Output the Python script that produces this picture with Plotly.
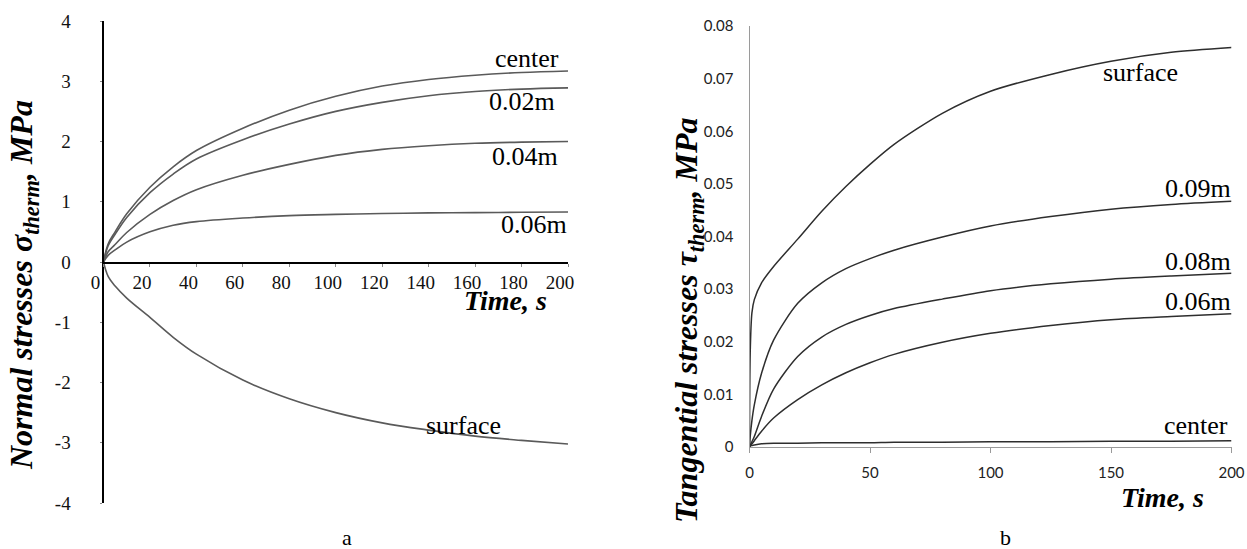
import plotly.graph_objects as go

W, H = 1247, 549

# ---- Chart a: normal stresses ----
t_a = [0, 2, 5, 10, 20, 30, 40, 60, 80, 100, 120, 140, 160, 180, 200]
center_a = [0, 0.30, 0.50, 0.80, 1.24, 1.58, 1.85, 2.22, 2.52, 2.75, 2.92, 3.03, 3.10, 3.145, 3.17]
m002_a = [0, 0.27, 0.46, 0.74, 1.15, 1.46, 1.71, 2.03, 2.29, 2.50, 2.65, 2.76, 2.83, 2.87, 2.89]
m004_a = [0, 0.17, 0.29, 0.49, 0.79, 1.02, 1.20, 1.44, 1.62, 1.77, 1.87, 1.93, 1.97, 1.99, 2.00]
m006_a = [0, 0.11, 0.20, 0.33, 0.50, 0.61, 0.67, 0.73, 0.77, 0.79, 0.805, 0.815, 0.82, 0.825, 0.83]
surface_a = [0, -0.24, -0.40, -0.60, -0.92, -1.25, -1.53, -1.96, -2.27, -2.50, -2.67, -2.79, -2.89, -2.96, -3.02]
yticks_a = [-4, -3, -2, -1, 0, 1, 2, 3, 4]
yticktext_a = ["-4", "-3", "-2", "-1", "0", "1", "2", "3", "4"]

# ---- Chart b: tangential stresses ----
t_b = [0, 0.3, 1, 2, 5, 10, 20, 30, 40, 50, 60, 80, 100, 125, 150, 175, 200]
surface_b = [0, 0.018, 0.0255, 0.028, 0.0312, 0.0343, 0.0395, 0.0448, 0.0495, 0.0537, 0.0575, 0.0634, 0.0676, 0.0708, 0.0733, 0.0750, 0.0759]
m009_b = [0, 0.002, 0.005, 0.008, 0.0140, 0.0203, 0.0273, 0.0312, 0.0339, 0.0358, 0.0374, 0.0399, 0.0420, 0.0438, 0.0452, 0.0461, 0.0467]
m008_b = [0, 0.0003, 0.001, 0.002, 0.0058, 0.0110, 0.0172, 0.0209, 0.0233, 0.0250, 0.0263, 0.0281, 0.0297, 0.0310, 0.0319, 0.0325, 0.0330]
m006_b = [0, 0.0002, 0.0006, 0.0012, 0.0030, 0.0055, 0.0090, 0.0118, 0.0141, 0.0160, 0.0176, 0.0199, 0.0216, 0.0231, 0.0242, 0.0248, 0.0253]
center_b = [0, 0.0002, 0.0003, 0.0004, 0.0006, 0.0007, 0.0007, 0.0008, 0.0008, 0.0008, 0.0009, 0.0009, 0.0010, 0.0010, 0.0011, 0.0011, 0.0012]

def px(x):
    return x / W

def py(y):
    return 1 - y / H

fig = go.Figure()

gray_a = "#5a5a5a"
for ys in [center_a, m002_a, m004_a, m006_a, surface_a]:
    fig.add_trace(go.Scatter(x=t_a, y=ys, mode="lines", xaxis="x", yaxis="y",
                             line=dict(color=gray_a, width=1.6, shape="spline", smoothing=1.0),
                             showlegend=False, hoverinfo="skip"))

dark_b = "#2e2e2e"
for ys in [surface_b, m009_b, m008_b, m006_b, center_b]:
    fig.add_trace(go.Scatter(x=t_b, y=ys, mode="lines", xaxis="x2", yaxis="y2",
                             line=dict(color=dark_b, width=1.5, shape="spline", smoothing=0.8),
                             showlegend=False, hoverinfo="skip"))

serif = "Liberation Serif, Times New Roman, serif"
sans = "Lato, Carlito, Calibri, sans-serif"

fig.update_layout(
    width=W, height=H,
    margin=dict(l=0, r=0, t=0, b=0, autoexpand=False),
    paper_bgcolor="white", plot_bgcolor="white",
    xaxis=dict(domain=[px(103.5), px(568)], range=[0, 200], dtick=20,
               anchor="free", position=py(262.5), automargin=False,
               showline=True, linecolor="black", linewidth=2,
               ticks="outside", ticklen=3, tickcolor="#888",
               showgrid=False, zeroline=False,
               tickfont=dict(family=serif, size=19, color="#111"),
               ticklabelshift=-8, ticklabelstandoff=0),
    yaxis=dict(domain=[py(503), py(21)], range=[-4, 4], automargin=False,
               tickmode="array", tickvals=yticks_a, ticktext=yticktext_a,
               anchor="x", showline=True, linecolor="black", linewidth=2,
               ticks="outside", ticklen=2, tickcolor="#888",
               showgrid=False, zeroline=False,
               tickfont=dict(family=serif, size=19, color="#111"),
               ticklabelstandoff=25),
    xaxis2=dict(domain=[px(749.5), px(1231.5)], range=[0, 200], dtick=50,
                anchor="y2", automargin=False, showline=True, linecolor="#9a9a9a", linewidth=1.3,
                ticks="outside", ticklen=5, tickcolor="#9a9a9a",
                showgrid=False, zeroline=False,
                tickfont=dict(family=sans, size=15, color="#222"),
                ticklabelstandoff=7),
    yaxis2=dict(domain=[py(447), py(26)], range=[0, 0.08], dtick=0.01,
                anchor="x2", automargin=False, showline=True, linecolor="#9a9a9a", linewidth=1.3,
                ticks="", showgrid=False, zeroline=False,
                tickfont=dict(family=sans, size=15, color="#222"),
                ticklabelstandoff=12),
)

def ann(text, x, y, size=27, family=serif, angle=0, xanchor="center"):
    fig.add_annotation(text=text, x=px(x), y=py(y), xref="paper", yref="paper",
                       showarrow=False, textangle=angle, xanchor=xanchor, yanchor="middle",
                       font=dict(family=family, size=size, color="black"))

# chart a labels
ann("center", 527, 58, size=26)
ann("0.02m", 522, 102, size=26)
ann("0.04m", 525, 156, size=26)
ann("0.06m", 534, 224, size=26)
ann("surface", 463, 425, size=26)
ann("<b><i>Time, s</i></b>", 505, 300, size=28)
ann("<b><i>Normal stresses σ<sub>therm</sub>, MPa</i></b>", 23, 285, size=32, angle=-90)
ann("a", 347, 537, size=22)

# chart b labels
ann("surface", 1140, 72, size=26)
ann("0.09m", 1198, 188, size=26)
ann("0.08m", 1198, 261, size=26)
ann("0.06m", 1198, 301, size=26)
ann("center", 1196, 425, size=26)
ann("<b><i>Time, s</i></b>", 1162, 497, size=28)
ann("<b><i>Tangential stresses τ<sub>therm</sub>, MPa</i></b>", 688, 320, size=32, angle=-90)
ann("b", 1005, 537, size=22)

fig.write_html("out.html")
